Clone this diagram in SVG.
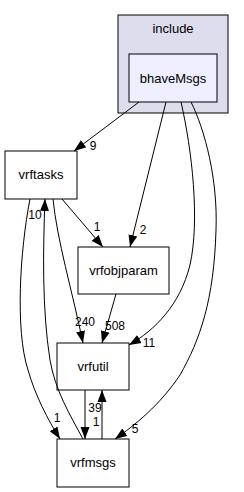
<svg xmlns="http://www.w3.org/2000/svg" width="244" height="492" viewBox="0 0 244 492">
<style>
text{font-family:"Liberation Sans",Arial,sans-serif;font-size:13px;fill:#000;text-anchor:middle}
.edge text{font-size:12px}
.node rect{fill:#fff;stroke:#000;stroke-width:1}
.edge path{fill:none;stroke:#000;stroke-width:1;marker-end:url(#ah)}
</style>
<defs>
<marker id="ah" markerUnits="userSpaceOnUse" markerWidth="12" markerHeight="10" refX="12" refY="5" orient="auto">
<path d="M0,0.5 L12,5 L0,9.5 z" fill="#000"/>
</marker>
</defs>
<rect width="244" height="492" fill="#fff"/>
<g id="cluster_include">
<rect x="118" y="15" width="110" height="98" fill="#ddddee" stroke="#000"/>
<text x="173" y="33">include</text>
</g>
<g id="node_bhaveMsgs" class="node">
<rect x="129" y="54" width="88" height="48" style="fill:#eeeeff"/>
<text x="173" y="83">bhaveMsgs</text>
</g>
<g id="node_vrftasks" class="node">
<rect x="5" y="151" width="72" height="48"/>
<text x="41" y="179">vrftasks</text>
</g>
<g id="node_vrfobjparam" class="node">
<rect x="78" y="247" width="91" height="47"/>
<text x="123.5" y="275">vrfobjparam</text>
</g>
<g id="node_vrfutil" class="node">
<rect x="57" y="343" width="72" height="47"/>
<text x="93" y="371">vrfutil</text>
</g>
<g id="node_vrfmsgs" class="node">
<rect x="57" y="439" width="72" height="48"/>
<text x="93" y="467">vrfmsgs</text>
</g>
<g id="connectors" class="edge">
<path d="M139,102 L74,151"/>
<text x="93" y="150">9</text>
<path d="M166,102 L130,247"/>
<text x="143" y="234">2</text>
<path d="M181,102 C192,150 200,220 190,265 C180,305 155,330 129,345"/>
<text x="149" y="347">11</text>
<path d="M191,102 C205,130 218,180 216,230 C214,300 200,340 180,375 C160,405 135,425 115,439"/>
<text x="135" y="433">5</text>
<path d="M62,199 L103,247"/>
<text x="97" y="231">1</text>
<path d="M53,199 C57,240 72,290 83,343"/>
<text x="85" y="326">240</text>
<path d="M30,199 C20,250 15,330 28,370 C35,395 48,420 60,439"/>
<text x="57" y="422">1</text>
<path d="M83,439 C70,415 55,390 50,360 C42,310 43,250 45,199"/>
<text x="35" y="219">10</text>
<path d="M116,294 L102,343"/>
<text x="115" y="330">508</text>
<path d="M85,390 L85,439"/>
<text x="96" y="426">1</text>
<path d="M102,439 L102,390"/>
<text x="95" y="412">39</text>
</g>
</svg>
